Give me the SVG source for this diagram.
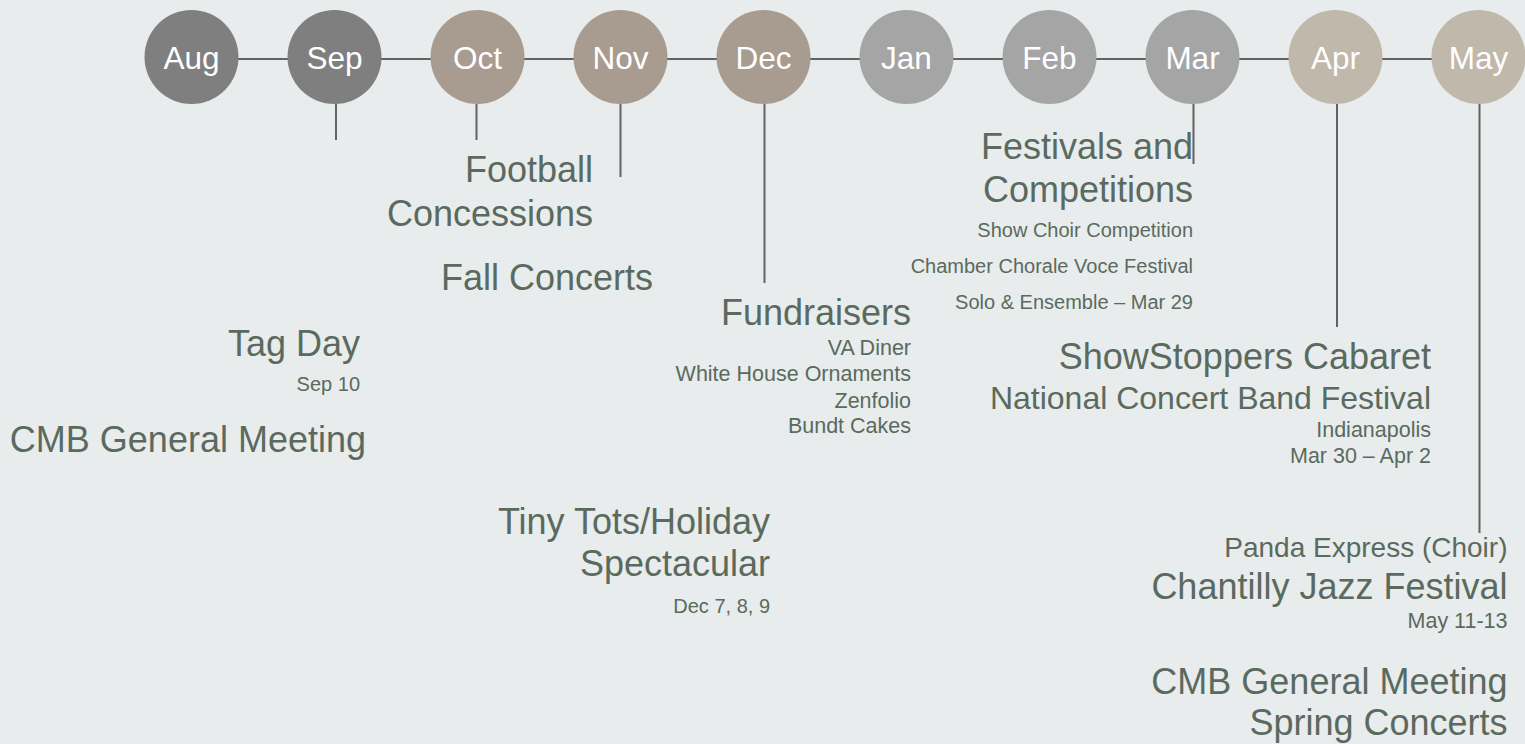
<svg xmlns="http://www.w3.org/2000/svg" width="1525" height="744" viewBox="0 0 1525 744">
<style>
.bg{fill:#E8ECEC}
.conn{stroke:#626262;stroke-width:2;fill:none}
.m{font-family:"Liberation Sans",Arial,sans-serif;font-size:31.5px;fill:#FFFFFF;text-anchor:middle}
.c1{fill:#7F7F7F}
.c2{fill:#A89B8F}
.c3{fill:#A5A5A5}
.c4{fill:#BFB8AB}
text.t{font-family:"Liberation Sans",Arial,sans-serif;fill:#5A6A5E;text-anchor:end}
.L{font-size:36px}
.M{font-size:32px}
.P{font-size:28px}
.S{font-size:21.5px}
.X{font-size:20px}
</style>
<rect class="bg" x="0" y="0" width="1525" height="744"/>
<g id="connectors">
<line class="conn" x1="191.5" y1="59" x2="1478.5" y2="59"/>
<line class="conn" x1="336" y1="104" x2="336" y2="140"/>
<line class="conn" x1="476.5" y1="104" x2="476.5" y2="140"/>
<line class="conn" x1="620.5" y1="104" x2="620.5" y2="177"/>
<line class="conn" x1="764.5" y1="104" x2="764.5" y2="283"/>
<line class="conn" x1="1193.5" y1="104" x2="1193.5" y2="164"/>
<line class="conn" x1="1337" y1="104" x2="1337" y2="327"/>
<line class="conn" x1="1479.5" y1="104" x2="1479.5" y2="533"/>
</g>
<g id="m-aug"><circle class="c1" cx="191.5" cy="57" r="47"/><text class="m" x="191.5" y="69">Aug</text></g>
<g id="m-sep"><circle class="c1" cx="334.5" cy="57" r="47"/><text class="m" x="334.5" y="69">Sep</text></g>
<g id="m-oct"><circle class="c2" cx="477.5" cy="57" r="47"/><text class="m" x="477.5" y="69">Oct</text></g>
<g id="m-nov"><circle class="c2" cx="620.5" cy="57" r="47"/><text class="m" x="620.5" y="69">Nov</text></g>
<g id="m-dec"><circle class="c2" cx="763.5" cy="57" r="47"/><text class="m" x="763.5" y="69">Dec</text></g>
<g id="m-jan"><circle class="c3" cx="906.5" cy="57" r="47"/><text class="m" x="906.5" y="69">Jan</text></g>
<g id="m-feb"><circle class="c3" cx="1049.5" cy="57" r="47"/><text class="m" x="1049.5" y="69">Feb</text></g>
<g id="m-mar"><circle class="c3" cx="1192.5" cy="57" r="47"/><text class="m" x="1192.5" y="69">Mar</text></g>
<g id="m-apr"><circle class="c4" cx="1335.5" cy="57" r="47"/><text class="m" x="1335.5" y="69">Apr</text></g>
<g id="m-may"><circle class="c4" cx="1478.5" cy="57" r="47"/><text class="m" x="1478.5" y="69">May</text></g>

<g id="ev-football"><text class="t L" x="593" y="182">Football</text><text class="t L" x="593" y="226">Concessions</text></g>
<g id="ev-fall-concerts"><text class="t L" x="653" y="290">Fall Concerts</text></g>
<g id="ev-tag-day"><text class="t L" x="360" y="356">Tag Day</text><text class="t X" x="360" y="391">Sep 10</text></g>
<g id="ev-cmb-fall"><text class="t L" x="366" y="452">CMB General Meeting</text></g>
<g id="ev-festivals"><text class="t L" x="1193" y="159">Festivals and</text><text class="t L" x="1193" y="202">Competitions</text><text class="t X" x="1193" y="237">Show Choir Competition</text><text class="t X" x="1193" y="273">Chamber Chorale Voce Festival</text><text class="t X" x="1193" y="309">Solo &amp; Ensemble – Mar 29</text></g>
<g id="ev-fundraisers"><text class="t L" x="911" y="325">Fundraisers</text><text class="t S" x="911" y="355">VA Diner</text><text class="t S" x="911" y="381">White House Ornaments</text><text class="t S" x="911" y="407.5">Zenfolio</text><text class="t S" x="911" y="433">Bundt Cakes</text></g>
<g id="ev-showstoppers"><text class="t L" x="1431" y="369">ShowStoppers Cabaret</text><text class="t M" x="1431" y="409">National Concert Band Festival</text><text class="t S" x="1431" y="437">Indianapolis</text><text class="t S" x="1431" y="463">Mar 30 – Apr 2</text></g>
<g id="ev-tiny-tots"><text class="t L" x="770" y="534">Tiny Tots/Holiday</text><text class="t L" x="770" y="576">Spectacular</text><text class="t X" x="770" y="613">Dec 7, 8, 9</text></g>
<g id="ev-may"><text class="t P" x="1507.5" y="557">Panda Express (Choir)</text><text class="t L" x="1507.5" y="599">Chantilly Jazz Festival</text><text class="t S" x="1507.5" y="628">May 11-13</text><text class="t L" x="1507.5" y="694">CMB General Meeting</text><text class="t L" x="1507.5" y="735">Spring Concerts</text></g>
</svg>
